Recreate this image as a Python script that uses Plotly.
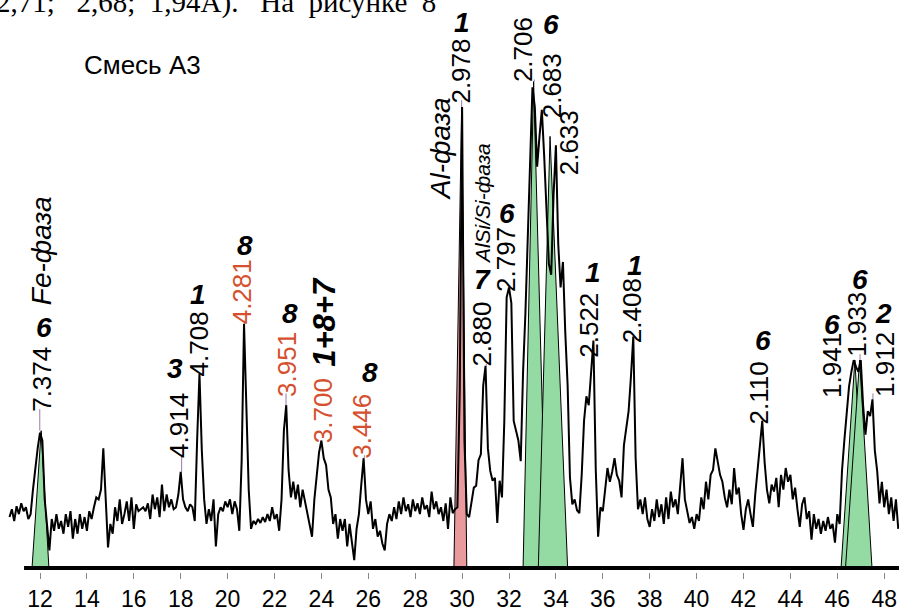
import plotly.graph_objects as go

# ---------------- data ----------------
two_theta_start = 10.7
two_theta_step = 0.1
intensity = [
    52, 60, 48,                                   # 10.7-10.9
    63, 55, 66, 58, 62, 50, 55, 80, 105, 122,     # 11
    138, 130, 70, 42, 18, 50, 38, 55, 40, 48,     # 12
    35, 55, 42, 58, 30, 50, 35, 55, 40, 52,       # 13
    38, 58, 50, 62, 72, 70, 80, 122, 70, 21,      # 14
    45, 35, 62, 48, 70, 45, 55, 68, 48, 72,       # 15
    40, 65, 58, 60, 62, 58, 66, 50, 75, 60,       # 16
    72, 52, 85, 58, 75, 62, 70, 60, 62, 75,       # 17
    98, 70, 62, 58, 65, 62, 48, 130, 198, 120,    # 18
    70, 45, 60, 48, 70, 22, 55, 62, 58, 68,       # 19
    62, 70, 55, 68, 60, 38, 110, 249, 170, 80,    # 20
    40, 48, 45, 50, 46, 52, 47, 55, 48, 62,       # 21
    50, 55, 38, 70, 140, 166, 100, 72, 88, 70,    # 22
    85, 62, 80, 68, 55, 45, 32, 70, 95, 118,      # 23
    130, 112, 105, 80, 72, 45, 55, 30, 50, 38,    # 24
    50, 22, 45, 28, 8, 40, 55, 85, 112, 70,       # 25
    55, 68, 40, 50, 32, 38, 25, 18, 45, 55,       # 26
    48, 62, 50, 68, 55, 72, 58, 65, 52, 70,       # 27
    58, 66, 55, 72, 60, 64, 52, 78, 60, 68,       # 28
    55, 62, 48, 66, 40, 72, 56, 60, 62, 180,      # 29
    470, 130, 55, 52, 68, 82, 84, 110, 116, 186,  # 30
    206, 122, 99, 89, 92, 46, 89, 72, 150, 276,   # 31
    286, 270, 150, 140, 130, 109, 200, 260, 330, 400,  # 32
    490, 470, 409, 440, 467, 420, 360, 310, 299, 380,  # 33
    431, 330, 286, 312, 240, 186, 92, 65, 70, 59,      # 34
    56, 95, 150, 175, 166, 195, 232, 100, 32, 62,      # 35
    58, 80, 102, 88, 98, 112, 95, 89, 72, 125,    # 36
    142, 160, 195, 236, 112, 60, 70, 55, 72, 50,  # 37
    42, 60, 48, 70, 52, 65, 45, 72, 50, 78,       # 38
    62, 70, 55, 82, 112, 70, 58, 46, 52, 40,      # 39
    55, 48, 72, 60, 88, 70, 95, 100, 122, 110,    # 40
    95, 88, 72, 62, 80, 65, 102, 75, 82, 55,      # 41
    39, 60, 70, 55, 42, 75, 102, 125, 150, 108,   # 42
    80, 66, 85, 78, 92, 62, 95, 80, 102, 88,      # 43
    95, 70, 82, 60, 42, 65, 72, 50, 58, 29,       # 44
    55, 40, 50, 35, 48, 38, 52, 40, 45, 26,       # 45
    55, 45, 99, 130, 160, 185, 200, 212, 205, 200,  # 46
    212, 166, 136, 160, 155, 172, 120, 99, 66, 88,  # 47
    62, 80, 55, 72, 48, 70, 40,                   # 48.0-48.6
]
two_theta = [round(two_theta_start + i * two_theta_step, 2) for i in range(len(intensity))]

# phase triangles: left base, apex position, right base, apex height
green_left = [11.66, 32.60, 33.25, 46.16, 46.35]
green_apex = [12.05, 33.05, 33.75, 46.75, 46.95]
green_right = [12.38, 33.60, 34.50, 47.25, 47.48]
green_height = [140, 496, 440, 212, 212]
red_left = [29.65]
red_apex = [29.98]
red_right = [30.20]
red_height = [470]

# identified peaks: position (2theta) and top intensity
peak_x = [11.99, 18.04, 18.83, 20.73, 22.49, 24.03, 25.83, 29.98, 31.03, 31.97,
          33.08, 33.37, 34.02, 35.57, 37.31, 42.82, 46.77, 46.97, 47.52]
peak_top = [140, 98, 198, 249, 166, 130, 112, 470, 206, 286,
            496, 467, 431, 232, 236, 150, 212, 212, 172]

# d-spacing labels (text, x in 2theta, bottom level, colour)
d_text = ["7.374", "4.914", "4.708", "4.281", "3.951", "3.700", "3.446", "2.978",
          "2.880", "2.797", "2.706", "2.683", "2.633", "2.522", "2.408", "2.110",
          "1.941", "1.933", "1.912"]
d_x = [12.09, 17.93, 18.78, 20.61, 22.53, 24.07, 25.73, 29.95,
       30.85, 31.87, 32.60, 33.83, 34.56, 35.41, 37.25, 42.70,
       45.77, 46.84, 48.03]
d_y = [166, 119, 202, 256, 182, 134, 119, 481,
       212, 289, 502, 466, 407, 222, 236, 154,
       181, 222, 182]
d_red = ["4.281", "3.951", "3.700", "3.446"]

# phase numbers (upright bold italic)
num_text = ["6", "3", "1", "8", "8", "8", "1", "7", "6", "6", "1", "1", "6", "6", "6", "2"]
num_x = [12.17, 17.76, 18.74, 20.74, 22.66, 26.07, 30.00, 30.85, 31.91, 33.79,
         35.58, 37.37, 42.83, 45.77, 46.97, 47.95]
num_y = [245, 203, 279, 329, 259, 199, 556, 294, 361, 554,
         301, 308, 232, 248, 294, 259]

# rotated phase names
name_text = ["Fe-фаза", "Al-фаза", "AlSi/Si-фаза", "1+8+7"]
name_x = [12.04, 29.06, 30.85, 24.15]
name_y = [324, 427, 371, 251]

tick_vals = list(range(12, 49, 2))
x_range = [10.294, 48.631]

SANS = "Liberation Sans, Arial, sans-serif"

fig = go.Figure()

def tri_trace(l, a, r, h, color):
    return go.Scatter(x=[l, a, r, l], y=[0, h, 0, 0], mode="lines", fill="toself",
                      fillcolor=color, line=dict(color="black", width=1),
                      hoverinfo="skip", showlegend=False)

for l, a, r, h in zip(green_left, green_apex, green_right, green_height):
    fig.add_trace(tri_trace(l, a, r, h, "#93dba3"))
for l, a, r, h in zip(red_left, red_apex, red_right, red_height):
    fig.add_trace(tri_trace(l, a, r, h, "#e89a9c"))

# thin marker lines from peak tops to label level
mx, my = [], []
for px_, pt, ly in zip(peak_x, peak_top, d_y):
    if ly > pt:
        mx += [px_, px_, None]
        my += [pt, ly - 4, None]
fig.add_trace(go.Scatter(x=mx, y=my, mode="lines", line=dict(color="#9a7aa6", width=1),
                         hoverinfo="skip", showlegend=False, connectgaps=False))

fig.add_trace(go.Scatter(x=two_theta, y=intensity, mode="lines",
                         line=dict(color="black", width=2), showlegend=False,
                         hoverinfo="skip"))

annotations = []
for t, x, y in zip(d_text, d_x, d_y):
    annotations.append(dict(x=x, y=y, xref="x", yref="y", text=t, showarrow=False,
                            textangle=-90, xanchor="center", yanchor="bottom", yshift=-9,
                            font=dict(family=SANS, size=26,
                                      color="#d4502e" if t in d_red else "black")))
for t, x, y in zip(num_text, num_x, num_y):
    annotations.append(dict(x=x, y=y, xref="x", yref="y", text="<b><i>%s</i></b>" % t,
                            showarrow=False, xanchor="center", yanchor="middle",
                            font=dict(family=SANS, size=28, color="black")))
name_sizes = [28, 28, 21, 31]
for t, x, y, s in zip(name_text, name_x, name_y, name_sizes):
    txt = "<b><i>%s</i></b>" % t if t == "1+8+7" else "<i>%s</i>" % t
    annotations.append(dict(x=x, y=y, xref="x", yref="y", text=txt, showarrow=False,
                            textangle=-90, xanchor="center", yanchor="middle",
                            font=dict(family=SANS, size=s, color="black")))

annotations.append(dict(x=16.35, y=513, xref="x", yref="y", text="Смесь А3",
                        showarrow=False, xanchor="center", yanchor="middle",
                        font=dict(family=SANS, size=26, color="black")))
sp = "&nbsp;"
annotations.append(dict(x=0, y=1.0, xref="paper", yref="paper",
                        text="2,71;" + sp * 3 + "2,68;" + sp * 2 + "1,94A)." + sp * 3 +
                             "На" + sp * 2 + "рисунке" + sp * 2 + "8",
                        showarrow=False, xanchor="left", yanchor="bottom", yshift=-21,
                        xshift=-6,
                        font=dict(family="Liberation Serif, Times New Roman, serif", size=29,
                                  color="black")))

fig.update_layout(
    width=899, height=612,
    margin=dict(l=0, r=0, t=0, b=29),
    paper_bgcolor="white", plot_bgcolor="white",
    xaxis=dict(range=x_range, tickvals=tick_vals, ticks="outside", ticklen=6,
               tickcolor="#888888", tickwidth=1, showline=False, zeroline=False,
               showgrid=False, tickfont=dict(family=SANS, size=23, color="black")),
    yaxis=dict(range=[-4, 579], visible=False, showgrid=False, zeroline=False),
    annotations=annotations,
    shapes=[dict(type="line", xref="x", yref="y", x0=11.32, x1=x_range[1], y0=0, y1=0,
                 line=dict(color="black", width=4))],
)

fig.write_html("out.html")
